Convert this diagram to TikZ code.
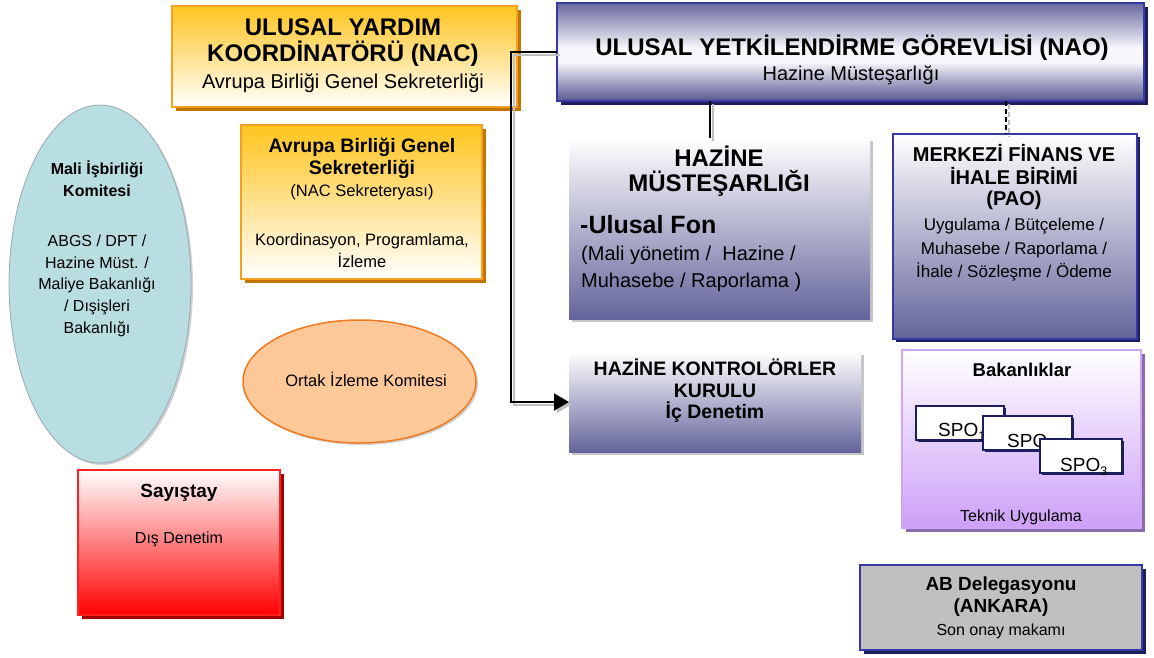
\documentclass[tikz,border=0pt]{standalone}
\usepackage{fontspec}
\setmainfont{Liberation Sans}
\usetikzlibrary{arrows.meta,shapes.geometric,shadows}
\definecolor{gold}{HTML}{FFC41E}
\definecolor{orangeB}{HTML}{F5A01E}
\definecolor{orangeS}{HTML}{C47400}
\definecolor{naotop}{HTML}{6868A0}
\definecolor{naobot}{HTML}{575790}
\definecolor{naomid}{HTML}{F7F7FB}
\definecolor{navy}{HTML}{3838A4}
\definecolor{navyS}{HTML}{1E1E5C}
\definecolor{slate}{HTML}{64649C}
\definecolor{lav}{HTML}{CDA0F7}
\definecolor{lavB}{HTML}{CFA6F5}
\definecolor{lavS}{HTML}{8C6AAE}
\definecolor{tealF}{HTML}{B9DEE2}
\definecolor{tealB}{HTML}{98A8B0}
\definecolor{peach}{HTML}{FFC898}
\definecolor{peachB}{HTML}{F07A22}
\definecolor{redB}{HTML}{FF2020}
\definecolor{redS}{HTML}{A00000}
\definecolor{abgray}{HTML}{C0C0C0}
\pgfdeclareverticalshading{naoshade}{100bp}{color(0bp)=(naobot); color(25bp)=(naobot); color(45bp)=(naomid); color(52bp)=(naomid); color(75bp)=(naotop); color(100bp)=(naotop)}
\newcommand\FS[1]{\fontsize{#1}{#1}\selectfont}
\begin{document}
\begin{tikzpicture}[x=1pt,y=-1pt,
  tb/.style={anchor=base,inner sep=0pt},
  tbw/.style={anchor=base west,inner sep=0pt},
  bx/.style={rectangle,inner sep=0pt,outer sep=0pt},
  orangebox/.style={bx,draw=orangeB,line width=1.5pt,top color=gold,bottom color=white,
     drop shadow={shadow xshift=4pt,shadow yshift=-4pt,fill=orangeS,opacity=1}},
  slatebox/.style={bx,top color=white,bottom color=slate,
     drop shadow={shadow xshift=3pt,shadow yshift=-3pt,fill=gray!45,opacity=1}},
  navybox/.style={bx,draw=navy,line width=1.5pt,top color=white,bottom color=slate,
     drop shadow={shadow xshift=3pt,shadow yshift=-3pt,fill=navyS,opacity=1}},
  spobox/.style={bx,draw=navyS,line width=1.5pt,fill=white,minimum width=88pt,minimum height=34pt,
     drop shadow={shadow xshift=2pt,shadow yshift=-2pt,fill=navyS,opacity=1}},
  conn/.style={draw=black,line width=2pt},
  connsh/.style={draw=gray!50,line width=2pt,transform canvas={shift={(2.5,2.5)}}},
  bigtip/.style={-{Triangle[length=15pt,width=17pt]}}
]
\useasboundingbox (0,0) rectangle (1154,657);

% ---- boxes ----
\node[orangebox,minimum width=345pt,minimum height=101pt] (nac) at (344.5,56.5) {};
\node[bx,draw=navy,line width=1.5pt,shade,shading=naoshade,minimum width=587pt,minimum height=98pt,
      drop shadow={shadow xshift=4pt,shadow yshift=-4pt,fill=navyS,opacity=1}] (nao) at (850.5,52) {};
\node[orangebox,minimum width=241pt,minimum height=154pt] (abgs) at (361.5,202) {};
\node[ellipse,inner sep=0pt,draw=tealB,line width=0.8pt,fill=tealF,minimum width=182pt,minimum height=358pt,
      drop shadow={shadow xshift=2pt,shadow yshift=-2pt,fill=gray!35,opacity=1}] (mik) at (100,284) {};
\node[ellipse,inner sep=0pt,draw=peachB,line width=1.5pt,fill=peach,minimum width=233pt,minimum height=123pt,
      drop shadow={shadow xshift=2pt,shadow yshift=-2pt,fill=gray!35,opacity=1}] (oik) at (359.5,381.5) {};
\node[slatebox,minimum width=301pt,minimum height=181pt] (hz) at (719.5,228.5) {};
\node[navybox,minimum width=244pt,minimum height=205pt] (mfib) at (1015,236.5) {};
\node[slatebox,minimum width=292pt,minimum height=100pt] (hkk) at (715,402) {};
\node[bx,draw=lavB,line width=1.5pt,top color=white,bottom color=lav,minimum width=239pt,minimum height=178pt,
      drop shadow={shadow xshift=4pt,shadow yshift=-4pt,fill=lavS,opacity=1}] (bak) at (1021.5,439) {};
\node[bx,draw=redB,line width=1.5pt,top color=white,bottom color=red,minimum width=202pt,minimum height=145pt,
      drop shadow={shadow xshift=4pt,shadow yshift=-4pt,fill=redS,opacity=1}] (say) at (179,542.5) {};
\node[bx,draw=navy,line width=1.5pt,fill=abgray,minimum width=282pt,minimum height=85pt,
      drop shadow={shadow xshift=4pt,shadow yshift=-4pt,fill=navyS,opacity=1}] (abd) at (1001,607.5) {};

% ---- SPO boxes ----
\node[spobox] (spo1) at (960,423) {};
\node[tbw,font=\FS{19}] (spo1t) at (938,436) {SPO\raisebox{-4pt}{\FS{12.5}1}};
\node[spobox,minimum width=89pt] (spo2) at (1027.5,433) {};
\node[tbw,font=\FS{19}] (spo2t) at (1007,447) {SPO\raisebox{-4pt}{\FS{12.5}2}};
\node[spobox,minimum width=82pt] (spo3) at (1081,456) {};
\node[tbw,font=\FS{19}] (spo3t) at (1060,471) {SPO\raisebox{-4pt}{\FS{12.5}3}};

% ---- texts ----
\node[tb,font=\bfseries\FS{24}] (nac1) at (343,35) {ULUSAL YARDIM};
\node[tb,font=\bfseries\FS{24}] (nac2) at (343,61.5) {KOORDİNATÖRÜ (NAC)};
\node[tb,font=\FS{20}] (nac3) at (343,88) {Avrupa Birliği Genel Sekreterliği};

\node[tb,font=\bfseries\FS{24}] (nao1) at (852,55) {ULUSAL YETKİLENDİRME GÖREVLİSİ (NAO)};
\node[tb,font=\FS{20}] (nao2) at (851,80.5) {Hazine Müsteşarlığı};

\node[tb,font=\bfseries\FS{19.5}] (abgs1) at (362,152) {Avrupa Birliği Genel};
\node[tb,font=\bfseries\FS{19.5}] (abgs2) at (362,174.5) {Sekreterliği};
\node[tb,font=\FS{16.5}] (abgs3) at (362,196.5) {(NAC Sekreteryası)};
\node[tb,font=\FS{16.5}] (abgs4) at (362,245) {Koordinasyon, Programlama,};
\node[tb,font=\FS{16.5}] (abgs5) at (362,267) {İzleme};

\node[tb,font=\bfseries\FS{16}] (mik1) at (97,174) {Mali İşbirliği};
\node[tb,font=\bfseries\FS{16}] (mik2) at (97,196) {Komitesi};
\node[tb,font=\FS{16}] (mik3) at (97,246) {ABGS / DPT /};
\node[tb,font=\FS{16}] (mik4) at (97,268) {Hazine Müst. /};
\node[tb,font=\FS{16}] (mik5) at (97,289.5) {Maliye Bakanlığı};
\node[tb,font=\FS{16}] (mik6) at (97,311.5) {/ Dışişleri};
\node[tb,font=\FS{16}] (mik7) at (97,333.5) {Bakanlığı};

\node[tb,font=\FS{16.5}] (oik1) at (366,386) {Ortak İzleme Komitesi};

\node[tb,font=\bfseries\FS{24}] (hz1) at (719,166) {HAZİNE};
\node[tb,font=\bfseries\FS{24}] (hz2) at (719,191) {MÜSTEŞARLIĞI};
\node[tbw,font=\bfseries\FS{25}] (hz3) at (580,233) {-Ulusal Fon};
\node[tbw,font=\FS{20}] (hz4) at (581,260) {(Mali yönetim /\ \ Hazine /};
\node[tbw,font=\FS{20}] (hz5) at (581,287) {Muhasebe / Raporlama )};

\node[tb,font=\bfseries\FS{20}] (mf1) at (1014,161) {MERKEZİ FİNANS VE};
\node[tb,font=\bfseries\FS{20}] (mf2) at (1014,184) {İHALE BİRİMİ};
\node[tb,font=\bfseries\FS{20}] (mf3) at (1014,205.5) {(PAO)};
\node[tb,font=\FS{17}] (mf4) at (1014,230.5) {Uygulama / Bütçeleme /};
\node[tb,font=\FS{17}] (mf5) at (1014,254) {Muhasebe / Raporlama /};
\node[tb,font=\FS{17}] (mf6) at (1014,277) {İhale / Sözleşme / Ödeme};

\node[tb,font=\bfseries\FS{19.5}] (hkk1) at (715,375) {HAZİNE KONTROLÖRLER};
\node[tb,font=\bfseries\FS{19.5}] (hkk2) at (715,397) {KURULU};
\node[tb,font=\bfseries\FS{19.5}] (hkk3) at (715,418) {İç Denetim};

\node[tb,font=\bfseries\FS{18.5}] (bak1) at (1022,376) {Bakanlıklar};
\node[tb,font=\FS{16}] (bak2) at (1021,521) {Teknik Uygulama};

\node[tb,font=\bfseries\FS{19}] (say1) at (179,497) {Sayıştay};
\node[tb,font=\FS{16}] (say2) at (179,543) {Dış Denetim};

\node[tb,font=\bfseries\FS{19}] (abd1) at (1001,590) {AB Delegasyonu};
\node[tb,font=\bfseries\FS{19}] (abd2) at (1001,612) {(ANKARA)};
\node[tb,font=\FS{16}] (abd3) at (1001,635) {Son onay makamı};

% ---- connectors ----
\coordinate (j1) at (511,0);
\coordinate (j2) at (710,0);
\coordinate (j3) at (1006,0);
\draw[connsh,bigtip] (nao.west) -- (j1 |- nao.west) |- (hkk.west);
\draw[conn,bigtip] (nao.west) -- (j1 |- nao.west) |- (hkk.west);
\draw[connsh] (j2 |- nao.south) -- (j2 |- hz.north);
\draw[conn] (j2 |- nao.south) -- (j2 |- hz.north);
\draw[connsh,dash pattern=on 5pt off 3pt] (j3 |- nao.south) -- (j3 |- mfib.north);
\draw[conn,line width=1.5pt,dash pattern=on 5pt off 3pt] (j3 |- nao.south) -- (j3 |- mfib.north);
\end{tikzpicture}
\end{document}
